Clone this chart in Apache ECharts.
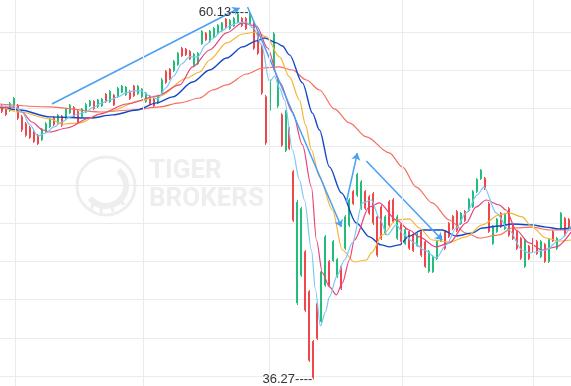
<!DOCTYPE html>
<html>
<head>
<meta charset="utf-8">
<script src="https://cdn.jsdelivr.net/npm/echarts@6/dist/echarts.min.js"></script>
<style>html,body{margin:0;padding:0;background:#fff}#c{width:571px;height:386px}</style>
</head>
<body>
<div id="c"></div>
<script>
// [open, close, low, high]
const candles = [
 [54.05,53.70,53.59,54.18],[53.95,53.50,53.40,54.05],[53.75,54.20,53.66,54.31],[54.00,54.55,53.92,54.64],[54.10,53.25,53.14,54.18],
 [53.35,52.50,52.36,53.47],[52.90,52.15,52.04,53.01],[52.65,52.00,51.91,52.75],[52.40,51.75,51.65,52.49],[52.15,51.60,51.52,52.23],
 [51.85,52.55,51.78,52.62],[52.40,52.90,52.30,53.01],[52.70,53.20,52.62,53.27],[53.30,52.85,52.75,53.40],[52.95,53.45,52.88,53.53],
 [53.40,52.80,52.69,53.47],[53.25,53.85,53.14,53.92],[53.60,54.10,53.53,54.18],[53.95,53.35,53.27,54.05],[53.70,53.00,52.88,53.79],
 [53.35,53.85,53.27,53.92],[53.65,54.15,53.59,54.25],[54.05,54.38,53.99,54.44],[54.35,53.88,53.79,54.44],[54.00,54.45,53.92,54.51],
 [54.05,54.50,53.99,54.57],[54.82,54.32,54.25,54.90],[54.32,55.00,54.25,55.09],[54.75,54.12,54.05,54.83],[54.65,55.20,54.57,55.29],
 [54.95,55.35,54.90,55.42],[54.78,55.28,54.70,55.35],[55.00,54.52,54.44,55.09],[55.35,54.72,54.64,55.42],[54.85,55.35,54.77,55.42],
 [54.65,55.15,54.57,55.22],[54.32,54.90,54.25,54.96],[54.70,54.20,54.12,54.77],[54.50,54.05,53.99,54.57],[54.25,54.70,54.18,54.77],
 [54.85,55.75,54.77,55.87],[56.30,55.58,55.48,56.39],[56.45,55.82,55.74,56.52],[56.35,56.95,56.26,57.04],[56.75,57.48,56.65,57.56],
 [57.80,57.30,57.24,57.89],[57.75,57.38,57.30,57.82],[57.60,57.10,57.04,57.69],[56.70,57.42,56.59,57.50],[56.80,57.48,56.71,57.56],
 [58.10,58.90,58.02,58.99],[58.78,58.35,58.28,58.86],[58.25,58.92,58.15,58.99],[58.55,59.10,58.47,59.19],[58.75,59.30,58.67,59.38],
 [58.93,59.45,58.86,59.51],[59.70,59.20,59.12,59.77],[59.08,59.62,58.99,59.71],[59.25,59.75,59.19,59.84],[59.52,60.02,59.45,60.10],
 [59.75,59.28,59.19,59.84],[59.75,59.08,58.99,59.84],[59.40,60.00,59.32,60.13],[59.40,57.80,57.69,59.51],[58.75,57.48,57.37,58.86],
 [57.90,54.90,54.77,58.02],[54.65,51.65,51.52,54.77],[53.78,55.75,53.66,55.87],[56.50,58.75,56.39,58.86],[54.05,55.82,53.92,55.93],
 [53.48,51.50,51.39,53.59],[51.15,53.70,51.06,53.79],[52.58,51.28,51.19,52.68],[49.78,46.62,46.51,49.89],[41.25,47.80,41.11,47.94],
 [43.05,47.38,42.94,47.49],[44.58,40.78,40.66,44.69],[41.98,37.52,37.41,42.09],[38.75,36.40,36.27,38.84],[41.20,38.95,38.84,41.31],
 [40.05,43.28,39.95,43.39],[42.40,45.55,42.29,45.67],[43.95,42.40,42.29,44.04],[44.00,45.25,43.91,45.34],[42.95,44.08,42.87,44.17],
 [43.62,42.20,42.09,43.72],[44.80,46.85,44.69,46.97],[46.30,47.95,46.18,48.07],[48.50,47.70,47.61,48.59],[48.25,49.60,48.14,49.70],
 [47.40,49.12,47.29,49.24],[48.50,47.40,47.29,48.59],[48.15,47.08,46.97,48.27],[48.35,46.45,46.32,48.46],[46.85,44.35,44.24,46.97],
 [47.50,45.45,45.34,47.61],[45.78,46.85,45.67,46.97],[47.82,46.30,46.18,47.94],[47.95,46.55,46.45,48.07],[45.45,46.85,45.34,46.97],
 [46.35,45.25,45.14,46.45],[45.10,46.02,45.02,46.12],[45.90,44.80,44.69,45.99],[45.70,44.65,44.56,45.80],[44.97,45.72,44.89,45.80],
 [45.88,44.35,44.24,45.99],[45.22,43.62,43.52,45.34],[43.30,44.58,43.20,44.69],[43.28,44.28,43.20,44.37],[44.12,45.25,44.04,45.34],
 [45.28,45.60,45.21,45.67],[45.90,44.80,44.69,45.99],[46.42,45.55,45.47,46.51],[46.88,46.08,45.99,46.97],[47.20,45.95,45.86,47.29],
 [46.40,47.08,46.32,47.16],[47.20,46.60,46.51,47.29],[47.25,48.00,47.16,48.07],[47.50,48.50,47.42,48.59],[48.48,49.28,48.39,49.37],
 [49.32,49.88,49.24,49.95],[49.35,48.68,48.59,49.44],[47.70,45.90,45.80,47.81],[45.10,46.22,45.02,46.32],[45.88,46.70,45.80,46.77],
 [47.08,46.20,46.12,47.16],[46.08,47.00,45.99,47.10],[47.38,45.65,45.54,47.49],[46.35,45.42,45.34,46.45],[45.90,44.78,44.69,45.99],
 [45.45,44.15,44.04,45.54],[43.62,45.38,43.52,45.47],[44.95,44.12,44.04,45.02],[45.38,44.65,44.56,45.47],[45.25,44.45,44.37,45.34],
 [44.25,45.25,44.17,45.34],[45.05,43.95,43.85,45.14],[43.95,45.38,43.85,45.47],[45.90,45.28,45.21,45.99],[44.78,45.45,44.69,45.54],
 [46.08,47.08,45.99,47.16],[46.75,45.65,45.54,46.84],[46.68,46.08,45.99,46.77]
];
const categories = candles.map((c, i) => String(i + 1));

// moving-average lines: [bar index, price]
const ma5 = [[-0.5,54.05],[3,54.05],[5,53.66],[7,52.82],[9,52.10],[11,52.30],[13,52.69],[15,53.01],[17,53.34],[19,53.53],[21,53.66],[23,53.99],[25,54.25],[27,54.44],[29,54.64],[31,54.90],[33,55.03],[35,55.03],[37,54.70],[39,54.51],[41,55.22],[43,56.00],[45,56.78],[47,57.24],[49,57.24],[51,58.02],[53,58.47],[55,58.93],[57,59.25],[59,59.45],[61,59.51],[63,59.12],[65,58.02],[67,55.61],[68.25,56.00],[69.5,55.22],[70.75,54.44],[72.75,51.19],[74.5,49.24],[75.75,47.94],[77.5,44.69],[78.5,42.09],[79.75,39.75],[81,40.66],[82,41.64],[84,43.07],[85.75,44.04],[87.75,45.15],[90.25,47.75],[92.5,47.94],[94.5,46.77],[96.5,45.67],[98.75,46.32],[100.75,45.67],[103.25,45.15],[105.75,44.69],[108.75,44.17],[111.25,45.02],[113.75,46.12],[116.25,47.10],[119,48.27],[120.75,48.78],[123.75,47.10],[127,45.99],[130.25,44.69],[132,44.50],[136.25,44.69],[139.5,45.34],[142.5,46.25]];
const ma10 = [[-0.5,53.92],[3,53.99],[5,53.66],[7.5,53.01],[10.25,52.49],[12,52.36],[16.25,52.62],[22,53.27],[24.5,53.53],[31.25,54.18],[38.75,54.70],[44.5,55.42],[47.75,56.59],[52,57.69],[56.25,58.80],[60.25,59.45],[63.75,59.25],[66.5,57.82],[69.5,55.61],[72.75,53.66],[75.25,51.52],[77.5,48.78],[78.75,45.34],[80.25,43.20],[82,42.29],[83.75,41.77],[85.25,42.55],[87,44.04],[88.25,45.34],[92,47.49],[94.5,47.75],[98.75,46.64],[102,45.99],[104.5,45.54],[108.75,44.89],[112,45.15],[116.25,46.45],[118.75,47.49],[121.25,47.94],[124.5,47.62],[126.25,47.29],[128.75,45.99],[132,45.15],[135.25,44.69],[138.75,44.89],[142.5,45.85]];
const ma20 = [[-0.5,54.05],[4.5,53.66],[12,53.21],[15.25,52.88],[19.5,52.95],[24.5,53.53],[27,53.73],[34.5,54.38],[39.5,54.70],[46.25,55.87],[49.5,56.26],[52,57.04],[56.25,58.15],[60.25,58.73],[63.75,58.86],[66.25,58.54],[69.5,57.24],[72,55.94],[74.5,54.44],[76,52.82],[77.5,51.19],[79.5,49.44],[82.75,47.29],[85.25,44.69],[88.25,43.91],[91.25,44.04],[92.5,44.50],[95.25,45.67],[98.75,46.64],[102,46.71],[104.5,46.12],[107.75,45.34],[112,45.21],[116.25,45.54],[120.25,46.32],[124.5,46.97],[127,47.10],[130.25,46.84],[132.75,46.18],[136.25,45.47],[139.5,45.27],[142.5,45.34]];
const ma30 = [[-0.5,53.99],[4.5,53.79],[12,53.34],[22,53.27],[27.75,53.47],[33.75,53.79],[38.75,54.25],[42.75,54.64],[47.75,55.61],[52,56.39],[56.25,57.17],[60.25,57.89],[63.75,58.28],[65.75,58.47],[68.75,58.15],[70.25,57.95],[72,57.37],[75.25,55.55],[77.75,53.59],[79.5,52.49],[82,50.09],[85,48.40],[88.75,46.45],[92,45.54],[95,45.02],[97,44.89],[99.5,45.02],[102,45.60],[105.25,45.99],[110.25,45.99],[113.75,45.60],[117.75,45.79],[120.25,46.12],[124.5,46.25],[127.75,46.38],[132.75,46.32],[136.25,46.18],[139.5,46.06],[142.5,46.12]];
const ma60 = [[-0.5,54.18],[12,53.99],[24.5,53.66],[32.75,53.79],[39.5,53.99],[44.5,54.25],[49.5,54.57],[52.75,55.09],[56.25,55.42],[61.25,56.13],[65.25,56.52],[69.5,56.59],[72.75,56.39],[76.25,55.74],[79.5,55.09],[83.25,53.86],[87,52.95],[91.25,52.04],[97,51.00],[100.25,50.09],[103.75,48.78],[107.75,47.75],[112,46.64],[116.25,45.79],[119.5,45.47],[124.5,45.67],[127.75,46.12],[132.75,46.18],[137,45.99],[142.5,45.99]];

// hand-drawn trend arrows: [[bar index, price], [bar index, price]]
const trendLines = [
  [[12.5,54.18],[59.5,60.42]],
  [[61.5,60.49],[85,46.18]],
  [[86.25,47.81],[89,50.99]],
  [[91.25,50.47],[110.25,45.34]]
];
const vGridAt = [3.26, 35.3, 66.9, 100.2, 133.0];

const UP = '#22bd78', DOWN = '#f0474d';
const chart = echarts.init(document.getElementById('c'), null, {renderer: 'canvas'});
const hidden = {show: false};
const option = {
  animation: false,
  backgroundColor: '#ffffff',
  grid: [
    {left: 0, right: 0, top: 0, bottom: 0},
    {left: 0, right: 0, top: 32, bottom: 10}
  ],
  xAxis: [
    {type: 'category', gridIndex: 0, data: categories, boundaryGap: true, show: false},
    {type: 'value', gridIndex: 0, min: -0.5, max: candles.length - 0.5, show: false},
    {type: 'value', gridIndex: 1, min: 0, max: 1, show: false}
  ],
  yAxis: [
    {type: 'value', gridIndex: 0, min: 35.85, max: 60.94, show: false},
    {type: 'value', gridIndex: 1, min: 0, max: 9, interval: 1,
      axisLine: hidden, axisTick: hidden, axisLabel: hidden,
      splitLine: {show: true, lineStyle: {color: '#ebebeb', width: 1}}}
  ],
  graphic: [
    {type: 'circle', shape: {cx: 106, cy: 186, r: 29}, style: {fill: 'none', stroke: '#eeeeee', lineWidth: 3}, z: -1, silent: true},
    {type: 'arc', shape: {cx: 106, cy: 186, r: 20, startAngle: -0.9, endAngle: 2.5}, style: {fill: 'none', stroke: '#eeeeee', lineWidth: 6}, z: -1, silent: true},
    {type: 'line', shape: {x1: 94, y1: 200, x2: 91, y2: 210}, style: {stroke: '#eeeeee', lineWidth: 3}, z: -1, silent: true},
    {type: 'line', shape: {x1: 102, y1: 203, x2: 101, y2: 213}, style: {stroke: '#eeeeee', lineWidth: 3}, z: -1, silent: true},
    {type: 'line', shape: {x1: 111, y1: 202, x2: 113, y2: 212}, style: {stroke: '#eeeeee', lineWidth: 3}, z: -1, silent: true},
    {type: 'line', shape: {x1: 119, y1: 197, x2: 124, y2: 205}, style: {stroke: '#eeeeee', lineWidth: 3}, z: -1, silent: true},
    {type: 'text', x: 149, y: 171, style: {text: 'TIGER', fill: '#eeeeee', font: 'bold 26px Roboto', verticalAlign: 'middle'}, z: -1, silent: true},
    {type: 'text', x: 149, y: 199, style: {text: 'BROKERS', fill: '#eeeeee', font: 'bold 26px Roboto', verticalAlign: 'middle'}, z: -1, silent: true}
  ],
  series: [
    {type: 'line', xAxisIndex: 2, yAxisIndex: 1, data: [], silent: true},
    {
      type: 'line', xAxisIndex: 1, yAxisIndex: 0, data: [], silent: true,
      markLine: {silent: true, symbol: 'none', label: {show: false},
        lineStyle: {color: '#ebebeb', type: 'solid', width: 1},
        data: vGridAt.map(v => ({xAxis: v}))}
    },
    {
      type: 'candlestick', xAxisIndex: 0, yAxisIndex: 0,
      data: candles.map(v => ({value: v, itemStyle: {color: v[1] >= v[0] ? UP : DOWN, borderColor: v[1] >= v[0] ? UP : DOWN, color0: v[1] >= v[0] ? UP : DOWN, borderColor0: v[1] >= v[0] ? UP : DOWN}})),
      large: false, progressive: 0,
      barWidth: 1.5, z: 2,
      itemStyle: {color: UP, color0: DOWN, borderColor: UP, borderColor0: DOWN, borderWidth: 1},
      markPoint: {
        symbol: 'circle', symbolSize: 0.1, itemStyle: {color: 'rgba(0,0,0,0)'},
        label: {show: true, position: 'left', distance: 1, color: '#333', fontSize: 13, fontFamily: 'Liberation Sans, Arial, sans-serif',
          formatter: p => Number(p.value).toFixed(2) + '----'},
        data: [{type: 'max', valueDim: 'highest'}, {type: 'min', valueDim: 'lowest'}]
      }
    },
    {type: 'line', name: 'MA60', xAxisIndex: 1, yAxisIndex: 0, data: ma60, smooth: 0.3, smoothMonotone: 'x', showSymbol: false, z: 3, lineStyle: {color: '#f66e5f', width: 1.2}},
    {type: 'line', name: 'MA30', xAxisIndex: 1, yAxisIndex: 0, data: ma30, smooth: 0.3, smoothMonotone: 'x', showSymbol: false, z: 3, lineStyle: {color: '#1447c6', width: 1.4}},
    {type: 'line', name: 'MA20', xAxisIndex: 1, yAxisIndex: 0, data: ma20, smooth: 0.3, smoothMonotone: 'x', showSymbol: false, z: 3, lineStyle: {color: '#f4b531', width: 1.2}},
    {type: 'line', name: 'MA10', xAxisIndex: 1, yAxisIndex: 0, data: ma10, smooth: 0.3, smoothMonotone: 'x', showSymbol: false, z: 3, lineStyle: {color: '#e8437c', width: 1.2}},
    {type: 'line', name: 'MA5', xAxisIndex: 1, yAxisIndex: 0, data: ma5, smooth: 0.3, smoothMonotone: 'x', showSymbol: false, z: 3, lineStyle: {color: '#7cc7f6', width: 1.2}},
    {
      type: 'lines', coordinateSystem: 'cartesian2d', xAxisIndex: 1, yAxisIndex: 0, z: 4,
      symbol: ['none', 'arrow'], symbolSize: 7,
      lineStyle: {color: '#4a9ff3', width: 1.5, opacity: 1},
      data: trendLines.map(c => ({coords: c}))
    }
  ]
};
chart.setOption(option);
</script>
</body>
</html>
